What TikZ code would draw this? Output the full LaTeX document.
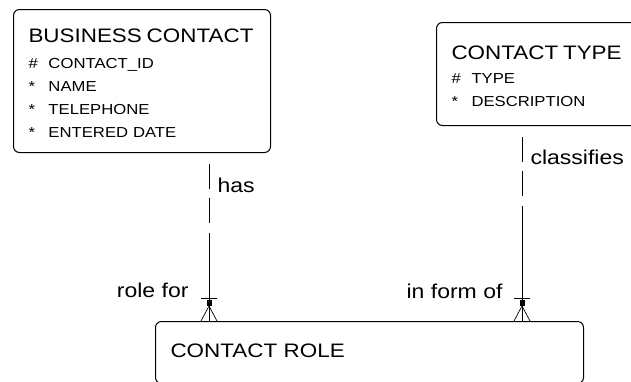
\documentclass[tikz,border=0pt]{standalone}
\usepackage{fontspec}
\usetikzlibrary{calc}
\newfontfamily\erfont[FakeStretch=1.15]{Liberation Sans}
\newcommand\ertitle{\fontsize{19.5}{23}\selectfont}
\newcommand\erattr[1]{\makebox[20pt][l]{#1}}

\begin{document}
\begin{tikzpicture}[x=1pt,y=-1pt,line width=1pt,
  entity/.style={draw,rounded corners=6pt,anchor=north west,align=left,inner xsep=15pt,inner ysep=0pt,font=\erfont\fontsize{14.5}{23}\selectfont},
  reltext/.style={font=\erfont\fontsize{20}{24}\selectfont,inner sep=0pt},
  optional/.style={dash pattern=on 25pt off 9pt},
  crowfoot/.pic={
    \draw (-8,-23) -- (8,-23);
    \fill (-2.5,-21) rectangle (2.5,-15);
    \draw[line width=.7pt] (-8,0) -- (0,-15) -- (8,0);
  }]
\useasboundingbox (0,0) rectangle (631,381);
\clip (0,0) rectangle (631,381);
\node[entity,text width=227pt,minimum height=143pt] (contact) at (13,9) {\rule{0pt}{18pt}{\ertitle BUSINESS CONTACT}\\[3pt]
  \erattr{\#}CONTACT\_ID\\ \erattr{*}NAME\\ \erattr{*}TELEPHONE\\ \erattr{*}ENTERED DATE};
\node[entity,text width=190pt,minimum height=103pt] (type) at (436,22) {\rule{0pt}{18pt}{\ertitle CONTACT TYPE}\\[1pt]
  \erattr{\#}TYPE\\ \erattr{*}DESCRIPTION};
\node[entity,text width=398pt,minimum height=62pt,text depth=4pt,font=\erfont\ertitle] (role) at (155,321) {CONTACT ROLE};
% business contact has roles
\coordinate (has top) at ([xshift=196pt]contact.south west);
\coordinate (has end) at (has top |- role.north);
\draw[optional] ([yshift=-11pt]has top) -- ([yshift=-70pt]has top);
\draw ([yshift=-80pt]has top) -- (has end);
\pic at (has end) {crowfoot};
\node[reltext,anchor=base west] (has) at ([xshift=8pt,yshift=-39pt]has top) {has};
\node[reltext,anchor=base east] (role for) at ([xshift=-20pt,yshift=24pt]has end) {role for};
% contact type classifies roles
\coordinate (cls top) at ([xshift=86pt]type.south west);
\coordinate (cls end) at (cls top |- role.north);
\draw[optional] ([yshift=-11pt]cls top) -- ([yshift=-70pt]cls top);
\draw ([yshift=-80pt]cls top) -- (cls end);
\pic at (cls end) {crowfoot};
\node[reltext,anchor=base west] (classifies) at ([xshift=8pt,yshift=-38pt]cls top) {classifies};
\node[reltext,anchor=base east] (in form of) at ([xshift=-19pt,yshift=23pt]cls end) {in form of};
\end{tikzpicture}
\end{document}
